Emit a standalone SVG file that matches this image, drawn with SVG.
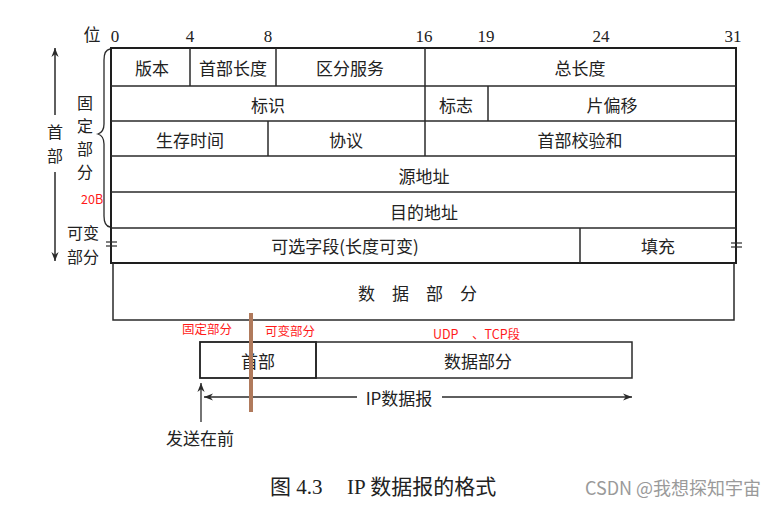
<svg xmlns="http://www.w3.org/2000/svg" width="782" height="505" viewBox="0 0 782 505">
<defs>
<style>
.ln{stroke:#2a2a2a;stroke-width:1.5;fill:none}
.ol{stroke:#1e1e1e;stroke-width:2;fill:none}
.t{font-family:"Noto Sans CJK SC","Liberation Sans",sans-serif;font-size:17px;fill:#222;text-anchor:middle;dominant-baseline:central}
.s{font-size:16px}
.n{font-family:"Liberation Serif",serif;font-size:17px;fill:#222;text-anchor:middle}
.r{font-family:"Noto Sans CJK SC","Liberation Sans",sans-serif;font-size:12.5px;fill:#ff1a1a;dominant-baseline:central}
.cap{font-family:"Liberation Serif","Noto Sans CJK SC",serif;font-size:21px;fill:#222;dominant-baseline:central}
</style>
<marker id="ah" viewBox="0 0 10 10" refX="10" refY="5" markerWidth="9" markerHeight="9" markerUnits="userSpaceOnUse" orient="auto-start-reverse">
<path d="M0,1 L10,5 L0,9 L3,5 Z" fill="#2a2a2a"/>
</marker>
</defs>
<rect width="782" height="505" fill="#fff"/>

<g id="bits">
<text x="92" y="33" class="t">位</text>
<text x="115" y="42" class="n">0</text>
<text x="190" y="42" class="n">4</text>
<text x="268" y="42" class="n">8</text>
<text x="424" y="42" class="n">16</text>
<text x="486" y="42" class="n">19</text>
<text x="601" y="42" class="n">24</text>
<text x="733" y="42" class="n">31</text>
</g>

<g id="header-table">
<rect x="111" y="48" width="625" height="215" class="ol"/>
<line x1="111" y1="86" x2="736" y2="86" class="ln"/>
<line x1="111" y1="121" x2="736" y2="121" class="ln"/>
<line x1="111" y1="156" x2="736" y2="156" class="ln"/>
<line x1="111" y1="192" x2="736" y2="192" class="ln"/>
<line x1="111" y1="228" x2="736" y2="228" class="ln"/>
<line x1="190" y1="48" x2="190" y2="86" class="ln"/>
<line x1="276" y1="48" x2="276" y2="86" class="ln"/>
<line x1="425" y1="48" x2="425" y2="156" class="ln"/>
<line x1="488" y1="86" x2="488" y2="121" class="ln"/>
<line x1="268" y1="121" x2="268" y2="156" class="ln"/>
<line x1="580" y1="228" x2="580" y2="263" class="ln"/>
<line x1="106" y1="242" x2="117" y2="242" class="ln" style="stroke-width:1.2"/>
<line x1="106" y1="246" x2="117" y2="246" class="ln" style="stroke-width:1.2"/>
<line x1="731" y1="243" x2="742" y2="243" class="ln" style="stroke-width:1.2"/>
<line x1="731" y1="247" x2="742" y2="247" class="ln" style="stroke-width:1.2"/>
</g>

<g id="fields">
<text x="152" y="67" class="t">版本</text>
<text x="233" y="67" class="t">首部长度</text>
<text x="350" y="67" class="t">区分服务</text>
<text x="580" y="67" class="t">总长度</text>
<text x="268" y="104" class="t">标识</text>
<text x="456" y="104" class="t">标志</text>
<text x="612" y="104" class="t">片偏移</text>
<text x="190" y="139" class="t">生存时间</text>
<text x="346" y="139" class="t">协议</text>
<text x="580" y="139" class="t">首部校验和</text>
<text x="424" y="175" class="t">源地址</text>
<text x="424" y="211" class="t">目的地址</text>
<text x="345" y="245" class="t">可选字段(长度可变)</text>
<text x="658" y="245" class="t">填充</text>
</g>

<g id="data-box">
<path d="M113,263 L113,320 L734,320 L734,263" class="ln"/>
<text x="426" y="292" class="t" style="letter-spacing:17px">数据部分</text>
</g>

<g id="left-labels">
<line x1="55" y1="115" x2="55" y2="48" class="ln" marker-end="url(#ah)"/>
<text x="55" y="131" class="t s">首</text>
<text x="55" y="155" class="t s">部</text>
<line x1="55" y1="172" x2="55" y2="261" class="ln" marker-end="url(#ah)"/>
<text x="85" y="102" class="t s">固</text>
<text x="85" y="125" class="t s">定</text>
<text x="85" y="148" class="t s">部</text>
<text x="85" y="171" class="t s">分</text>
<path d="M110,49 Q104,50 104,60 L104,124 Q104,132 98,134 Q104,136 104,144 L104,216 Q104,226 110,227" class="ln" style="stroke-width:1.3"/>
<text x="81" y="198" class="r">20B</text>
<text x="83" y="232" class="t s">可变</text>
<text x="83" y="256" class="t s">部分</text>
</g>

<g id="datagram">
<rect x="200" y="342" width="116" height="36" class="ol" style="stroke-width:1.8"/>
<rect x="316" y="342" width="316" height="36" class="ln"/>
<text x="258" y="360" class="t">首部</text>
<text x="478" y="360" class="t">数据部分</text>
<text x="182" y="328" class="r">固定部分</text>
<text x="265" y="330" class="r">可变部分</text>
<text x="433" y="333" class="r">UDP<tspan x="472">、TCP段</tspan></text>
</g>

<g id="connectors">
<line x1="357" y1="397" x2="204" y2="397" class="ln" style="stroke-width:1.3" marker-end="url(#ah)"/>
<line x1="442" y1="397" x2="632" y2="397" class="ln" style="stroke-width:1.3" marker-end="url(#ah)"/>
<text x="399" y="397" class="t">IP数据报</text>
<line x1="201" y1="422" x2="201" y2="383" class="ln" style="stroke-width:1.3" marker-end="url(#ah)"/>
<text x="200" y="437" class="t">发送在前</text>
<line x1="251" y1="313" x2="251" y2="412" stroke="#b07a5c" stroke-width="4"/>
</g>

<g id="caption">
<text x="270" y="487" class="cap">图 4.3<tspan x="347">IP 数据报的格式</tspan></text>
<text x="673" y="487" class="t" style="font-size:18px;fill:#9a9a9a">CSDN @我想探知宇宙</text>
</g>
</svg>
